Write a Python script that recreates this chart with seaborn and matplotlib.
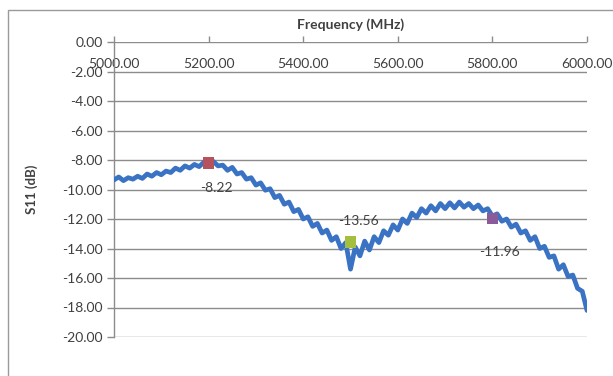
import numpy as np
import pandas as pd
import matplotlib
matplotlib.use("Agg")
import matplotlib.pyplot as plt
import seaborn as sns
from matplotlib.patches import Rectangle

# ---- data ----
freq_mhz = list(range(5000, 6001, 10))
s11_db = [
    -9.35, -9.15, -9.40, -9.20, -9.30, -9.10, -9.25, -8.95, -9.10, -8.85,
    -9.00, -8.75, -8.85, -8.55, -8.70, -8.40, -8.55, -8.30, -8.45, -8.15,
    -8.30, -8.10, -8.40, -8.35, -8.70, -8.50, -8.95, -8.85, -9.30, -9.20,
    -9.70, -9.55, -10.05, -9.95, -10.55, -10.40, -11.00, -10.85, -11.50, -11.35,
    -12.00, -11.85, -12.50, -12.30, -12.95, -12.75, -13.45, -13.20, -14.00, -13.60,
    -15.40, -13.90, -14.50, -13.50, -14.10, -13.20, -13.60, -12.80, -13.10, -12.40,
    -12.75, -12.00, -12.30, -11.60, -11.90, -11.30, -11.60, -11.10, -11.45, -10.95,
    -11.30, -10.90, -11.25, -10.85, -11.20, -10.95, -11.30, -11.05, -11.45, -11.30,
    -11.80, -11.65, -12.15, -12.00, -12.55, -12.35, -12.95, -12.80, -13.45, -13.20,
    -14.00, -13.85, -14.60, -14.50, -15.40, -15.10, -15.90, -15.80, -16.70, -16.90,
    -18.20,
]
marker_freq = [5200, 5500, 5800]
marker_db = [-8.22, -13.56, -11.96]
marker_labels = ["-8.22", "-13.56", "-11.96"]
marker_colors = ["#b5525c", "#a4bf3f", "#8a5a9a"]
label_offsets = [(6, -18), (6, 15), (5, -24)]  # points

x_ticks = [5000, 5200, 5400, 5600, 5800, 6000]
y_ticks = [0, -2, -4, -6, -8, -10, -12, -14, -16, -18, -20]
x_title = "Frequency (MHz)"
y_title = "S11 (dB)"

# ---- style ----
sns.set_theme(style="white")
plt.rcParams["font.family"] = ["Lato", "DejaVu Sans"]
text_col = "#404040"
grid_col = "#8c8c8c"

fig = plt.figure(figsize=(6.13, 3.76), dpi=100)
W, H = 613, 376
ax = fig.add_axes([114 / W, 1 - 337 / H, (587 - 114) / W, (337 - 42) / H])

# outer chart border
fig.patches.append(Rectangle((8 / W, -0.05), 1.2, 1 - 10 / H + 0.05,
                             transform=fig.transFigure, fill=False,
                             edgecolor="#9a9a9a", linewidth=1.0))

df = pd.DataFrame({"freq": freq_mhz, "s11": s11_db})
sns.lineplot(data=df, x="freq", y="s11", ax=ax, color="#3a73c4",
             linewidth=3.4, estimator=None, sort=False, zorder=3)

mdf = pd.DataFrame({"freq": marker_freq, "s11": marker_db, "lab": marker_labels})
sns.scatterplot(data=mdf, x="freq", y="s11", hue="lab", palette=marker_colors,
                marker="s", s=70, linewidth=0, ax=ax, legend=False, zorder=4)
for f, v, lab, off in zip(marker_freq, marker_db, marker_labels, label_offsets):
    ax.annotate(lab, (f, v), xytext=off, textcoords="offset points",
                ha="center", va="center", fontsize=10, color=text_col, zorder=5)

ax.set_xlim(5000, 6000)
ax.set_ylim(-20, 0)
ax.set_yticks(y_ticks)
ax.set_yticklabels([f"{v:.2f}" for v in y_ticks])
ax.set_xticks(x_ticks)
ax.set_xticklabels([f"{v:.2f}" for v in x_ticks])
for yv in y_ticks:
    ax.axhline(yv, color=grid_col, linewidth=1.0, zorder=1)

for s in ["right", "bottom", "top"]:
    ax.spines[s].set_visible(False)
ax.spines["left"].set_color(grid_col)
ax.spines["left"].set_linewidth(1.0)

ax.tick_params(axis="x", top=True, labeltop=True, bottom=False, labelbottom=False,
               direction="out", length=4, width=1, color=grid_col,
               pad=-24, labelsize=10, labelcolor=text_col)
ax.tick_params(axis="y", left=True, direction="out", length=5, width=1,
               color=grid_col, labelsize=10, labelcolor=text_col, pad=3)

ax.set_xlabel("")
ax.text(0.5, 1 + 17 / 295, x_title, transform=ax.transAxes, ha="center",
        va="center", fontsize=10, fontweight="bold", color=text_col)
ax.set_ylabel(y_title, fontsize=9.5, fontweight="bold", color=text_col)
ax.yaxis.set_label_coords(-(114 - 38) / 473, 0.5)

fig.savefig("out.png", dpi=100)
